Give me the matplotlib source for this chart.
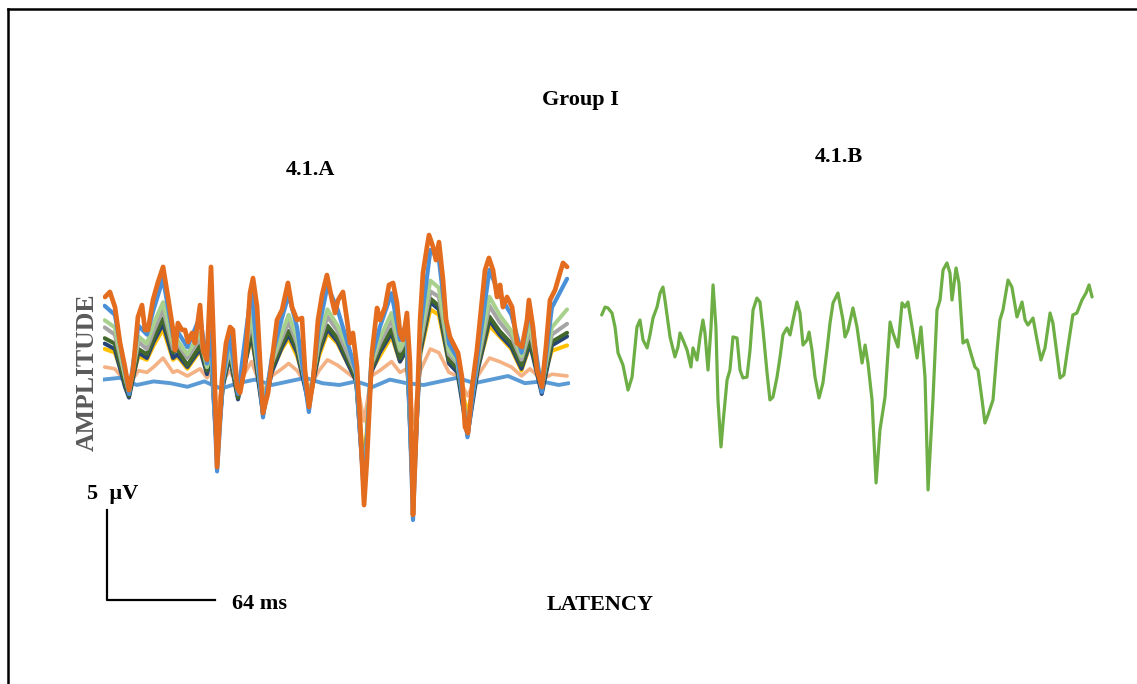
import numpy as np
import matplotlib
matplotlib.use("Agg")
import matplotlib.pyplot as plt
from matplotlib.lines import Line2D

# ---- panel 4.1.A : largest trace (orange) ----
lat_a = [1.2, 4.1, 7.1, 10.1, 13.0, 15.4, 17.8, 20.7, 23.1, 24.9, 26.7, 29.6, 32.6, 35.6,
         38.5, 41.5, 42.7, 44.4, 46.8, 48.6, 50.4, 52.7, 54.5, 57.5, 59.3, 61.6, 64.0, 65.8,
         67.6, 70.5, 72.9, 75.3, 77.0, 79.4, 81.2, 84.1, 87.1, 88.9, 91.3, 93.0, 94.8, 97.8,
         100.7, 103.1, 106.1, 109.6, 112.0, 115.0, 117.9, 119.7, 122.1, 124.4, 127.4, 129.8,
         132.7, 135.7, 137.5, 139.3, 142.2, 144.6, 146.4, 148.1, 150.5, 152.3, 154.7, 156.4,
         159.4, 162.4, 164.1, 167.1, 169.5, 171.9, 174.2, 176.0, 177.8, 180.1, 181.9, 183.7,
         185.5, 187.9, 189.6, 192.0, 193.2, 195.6, 197.3, 199.1, 201.5, 203.3, 205.6, 208.6,
         210.4, 212.7, 214.5, 216.3, 218.7, 221.6, 224.6, 226.4, 228.7, 231.1, 233.5, 235.3,
         237.0, 239.4, 242.4, 245.3, 248.3, 251.3, 252.4, 254.8, 257.2, 260.1, 262.5, 264.9,
         267.9, 270.8, 272.6, 275.0]
amp_orange = [4.89, 5.17, 4.33, 2.33, 1.00, -0.28, 0.83, 3.78, 4.44, 3.06, 3.06, 4.72, 5.72, 6.56,
              4.89, 3.06, 1.94, 3.44, 3.06, 3.06, 2.39, 2.89, 2.33, 4.44, 1.94, 1.39, 6.56, 1.78,
              -4.56, 0.28, 2.33, 3.22, 3.06, -0.11, -0.44, 1.00, 5.11, 5.94, 4.33, 1.39, -1.56, -0.44,
              1.78, 3.61, 4.17, 5.67, 4.33, 3.61, 3.72, 0.83, -1.22, 0.11, 3.61, 5.00,
              6.11, 4.72, 4.00, 4.72, 5.17, 3.61, 2.33, 2.89, 1.00, -1.94, -6.67, -4.17,
              1.78, 4.28, 3.61, 4.33, 5.56, 5.67, 4.56, 2.89, 2.50, 4.00, 1.22, -7.22,
              -2.89, 3.61, 6.22, 7.67, 8.33, 7.67, 6.94, 7.94, 5.83, 3.61, 2.67, 2.11,
              1.78, 0.44, -2.33, -2.67, -0.11, 1.94, 4.72, 6.39, 7.06, 6.39, 4.89, 5.56,
              4.33, 4.89, 4.33, 2.33, 2.11, 3.61, 4.72, 3.22, 0.83, -0.11, 2.11, 4.72,
              5.28, 6.22, 6.78, 6.56]

# ---- panel 4.1.A : the other subjects (coarser reading) ----
lat_mid = [1, 7, 13, 15.4, 21, 26, 30, 35.6, 41.5, 44, 50, 57.5, 61.6, 64, 67.6, 71, 75, 80,
           88, 94.8, 100, 106, 110, 115, 122, 128, 133, 139, 146, 150, 154.7, 159, 164, 171,
           176, 180, 183.7, 188, 194, 199, 205, 210, 216, 222, 229, 235, 242, 248, 253, 260,
           266, 275]
amp_blue = [4.4, 3.9, 0.8, -0.5, 3.3, 2.8, 4.2, 5.9, 2.7, 3.0, 2.1, 3.8, 1.2, 3.0, -4.8, 0.2,
            2.8, -0.5, 5.3, -1.8, 1.5, 3.7, 5.0, 3.2, -1.5, 3.2, 5.5, 4.2, 2.0, 0.7, -6.2, 1.4,
            3.2, 5.1, 2.5, 3.5, -7.5, 3.0, 7.5, 7.0, 2.3, 1.5, -2.9, 1.6, 6.4, 5.0, 3.9, 1.8,
            4.2, -0.4, 4.3, 5.9]
amp_ltgreen = [3.6, 3.2, 0.5, -0.4, 2.7, 2.3, 3.4, 4.6, 2.3, 2.5, 1.7, 2.9, 1.0, 2.3, -4.0, 0.2,
               2.3, -0.4, 4.0, -1.3, 1.3, 2.9, 3.9, 2.6, -1.0, 2.6, 4.2, 3.3, 1.9, 0.6, -5.8, 1.2,
               2.6, 4.0, 2.0, 2.8, -6.6, 2.6, 5.8, 5.4, 1.9, 1.3, -2.4, 1.4, 4.9, 3.9, 3.0, 1.6,
               3.4, -0.2, 3.2, 4.2]
amp_gray = [3.2, 2.8, 0.5, -0.4, 2.4, 2.0, 3.0, 4.2, 2.0, 2.3, 1.5, 2.6, 1.0, 2.0, -3.8, 0.3,
            2.0, -0.3, 3.6, -1.2, 1.2, 2.6, 3.5, 2.3, -0.8, 2.3, 3.8, 3.0, 1.5, 0.6, -5.5, 1.1,
            2.3, 3.6, 1.9, 2.6, -6.0, 2.3, 5.2, 4.9, 1.7, 1.2, -2.2, 1.2, 4.4, 3.5, 2.7, 1.4,
            3.0, 0.0, 2.8, 3.4]
amp_dkgreen = [2.6, 2.3, 0.1, -0.6, 2.0, 1.7, 2.6, 3.7, 1.8, 2.0, 1.1, 2.2, 0.8, 1.8, -3.5, 0.0,
               1.8, -0.7, 3.1, -1.4, 0.9, 2.3, 3.0, 2.0, -0.9, 2.0, 3.3, 2.6, 1.2, 0.3, -5.2, 0.9,
               2.0, 3.1, 1.5, 2.2, -5.8, 2.0, 4.8, 4.4, 1.4, 0.9, -2.5, 1.0, 3.8, 3.0, 2.3, 1.1,
               2.5, -0.3, 2.4, 2.9]
amp_navy = [2.3, 2.0, -0.1, -0.7, 1.8, 1.5, 2.4, 3.4, 1.5, 1.7, 1.0, 2.0, 0.6, 1.6, -3.9, -0.1,
            1.6, -0.8, 2.9, -1.6, 0.7, 2.1, 2.8, 1.8, -1.1, 1.8, 3.1, 2.4, 1.0, 0.2, -5.8, 0.7,
            1.8, 2.9, 1.3, 2.0, -6.4, 1.8, 4.6, 4.2, 1.2, 0.7, -2.8, 0.8, 3.6, 2.8, 2.1, 0.9,
            2.3, -0.5, 2.2, 2.7]
amp_yellow = [2.0, 1.8, 0.2, -0.3, 1.6, 1.4, 2.2, 3.1, 1.4, 1.6, 0.9, 1.9, 0.8, 1.4, -3.0, 0.2,
              1.5, -0.2, 2.6, -0.9, 0.8, 2.0, 2.6, 1.6, -0.5, 1.6, 2.9, 2.3, 1.0, 0.4, -4.5, 0.8,
              1.6, 2.7, 1.3, 1.9, -5.0, 1.7, 4.2, 3.9, 1.2, 0.8, -1.6, 0.9, 3.3, 2.7, 2.0, 0.8,
              2.2, 0.1, 1.9, 2.2]
amp_ltorange = [1.0, 0.9, 0.2, 0.0, 0.8, 0.7, 1.0, 1.5, 0.7, 0.8, 0.5, 0.9, 0.4, 0.7, -1.5, 0.2,
                0.8, 0.0, 1.3, -0.4, 0.5, 0.9, 1.2, 0.8, -0.2, 0.8, 1.4, 1.1, 0.6, 0.3, -2.0, 0.5,
                0.8, 1.3, 0.7, 0.9, -2.2, 0.8, 2.0, 1.8, 0.7, 0.5, -0.6, 0.5, 1.5, 1.3, 1.0, 0.5,
                0.9, 0.3, 0.6, 0.5]

lat_flat = [0, 10, 20, 30, 40, 50, 60, 70, 80, 90, 100, 110, 120, 130, 140, 150, 160, 170,
            180, 190, 200, 210, 220, 230, 240, 250, 260, 270, 276]
amp_flat = [0.3, 0.4, 0.0, 0.2, 0.1, -0.1, 0.2, -0.2, 0.1, 0.3, 0.0, 0.2, 0.4, 0.1, 0.0, 0.2,
            -0.1, 0.3, 0.1, 0.0, 0.2, 0.4, 0.1, 0.3, 0.5, 0.1, 0.2, 0.0, 0.1]

# ---- panel 4.1.B : grand average (green) ----
lat_b = [1.0, 3.0, 4.7, 7.1, 8.9, 10.7, 13.6, 16.6, 19.0, 21.9, 23.7, 25.5, 27.9, 29.6, 31.4,
         33.8, 35.6, 37.3, 38.5, 41.5, 44.4, 46.2, 47.4, 49.2, 51.6, 53.9, 55.1, 57.5, 59.3,
         61.0, 62.2, 64.0, 65.8, 67.0, 68.7, 69.9, 71.7, 72.9, 75.3, 77.0, 78.8, 81.2, 83.0,
         84.7, 87.1, 88.9, 90.7, 93.0, 94.8, 96.6, 99.0, 100.7, 102.5, 104.9, 106.7, 108.4,
         110.8, 112.6, 114.4, 116.7, 118.5, 120.3, 122.7, 123.9, 125.6, 127.4, 129.8, 132.1,
         134.5, 136.3, 138.1, 141.0, 144.0, 145.2, 147.0, 149.9, 152.3, 155.3, 157.1, 158.8,
         161.2, 163.6, 165.9, 168.9, 171.9, 173.6, 176.6, 179.0, 180.7, 182.5, 184.9, 187.9,
         190.2, 192.6, 194.4, 197.3, 199.7, 201.5, 203.3, 205.6, 207.4, 208.6, 211.0, 212.7,
         215.1, 217.5, 220.4, 222.2, 224.0, 226.4, 228.1, 229.9, 232.9, 235.3, 237.0, 238.8,
         241.8, 244.1, 247.1, 250.1, 251.9, 253.6, 256.6, 259.0, 261.3, 263.7, 266.7, 268.4,
         272.6, 274.9, 277.3, 280.2, 282.6, 285.6, 288.0, 289.8, 291.6]
amp_green = [3.89, 4.33, 4.28, 4.00, 3.22, 1.78, 1.11, -0.28, 0.44, 3.22, 3.61, 2.50, 2.06, 2.78, 3.72,
             4.33, 5.11, 5.44, 4.72, 2.67, 1.56, 2.11, 2.89, 2.50, 1.94, 1.00, 2.06, 1.39, 2.67,
             3.61, 2.89, 0.83, 3.22, 5.56, 3.22, -0.83, -3.44, -2.11, 0.28, 0.83, 2.67, 2.61, 0.83,
             0.39, 0.44, 1.94, 4.17, 4.83, 4.61, 3.06, 0.67, -0.83, -0.67, 0.44, 1.56, 2.78,
             3.17, 2.78, 3.61, 4.61, 4.00, 2.22, 2.50, 2.94, 1.94, 0.44, -0.72, 0.11,
             1.94, 3.44, 4.56, 5.11, 3.61, 2.67, 3.06, 4.28, 3.22, 1.22, 2.22, 1.22,
             -0.83, -5.44, -2.50, -0.67, 3.50, 2.89, 2.11, 4.56, 4.33, 4.61, 3.22, 1.50,
             3.22, 0.44, -5.83, -0.83, 4.17, 4.72, 6.39, 6.78, 6.22, 4.72, 6.50, 5.67,
             2.33, 2.50, 1.56, 1.00, 0.83, -0.83, -2.11, -1.67, -0.83, 1.94, 3.61, 4.17,
             5.83, 5.44, 3.78, 4.61, 3.61, 3.33, 3.72, 2.50, 1.39, 2.06, 4.00, 3.44,
             0.39, 0.56, 2.11, 3.89, 4.00, 4.72, 5.11, 5.56, 4.89]

W, H = 1137, 684
fig = plt.figure(figsize=(W / 100, H / 100), dpi=100)
plt.rcParams['font.family'] = ['Liberation Serif', 'DejaVu Serif']


def box(left, top, right, bottom):
    # pixel box -> figure fraction
    return [left / W, 1 - bottom / H, (right - left) / W, (bottom - top) / H]


def pt(x, y):
    return x / W, 1 - y / H


px_ms = 1.6875   # 64 ms scale bar = 108 px
px_uv = 18.0     # 5 uV scale bar = 90 px
ylo, yhi = -13, 9

ax_a = fig.add_axes(box(103, 385 - yhi * px_uv, 103 + 277 * px_ms, 385 - ylo * px_uv))
ax_b = fig.add_axes(box(600, 385 - yhi * px_uv, 600 + 293 * px_ms, 385 - ylo * px_uv))
ax_a.set_xlim(0, 277)
ax_b.set_xlim(0, 293)
for ax in (ax_a, ax_b):
    ax.set_ylim(ylo, yhi)
    ax.axis('off')

kw = dict(solid_joinstyle='round', solid_capstyle='round')
ax_a.plot(lat_mid, amp_ltorange, color='#F4B183', lw=2.6, **kw)
ax_a.plot(lat_flat, amp_flat, color='#5B9BD5', lw=2.8, **kw)
ax_a.plot(lat_mid, amp_yellow, color='#FFC000', lw=2.9, **kw)
ax_a.plot(lat_mid, amp_navy, color='#264478', lw=2.9, **kw)
ax_a.plot(lat_mid, amp_dkgreen, color='#43682B', lw=2.9, **kw)
ax_a.plot(lat_mid, amp_gray, color='#A5A5A5', lw=2.9, **kw)
ax_a.plot(lat_mid, amp_ltgreen, color='#A9D18E', lw=2.9, **kw)
ax_a.plot(lat_mid, amp_blue, color='#4A90D9', lw=3.0, **kw)
ax_a.plot(lat_a, amp_orange, color='#E36C1E', lw=3.4, **kw)

ax_b.plot(lat_b, amp_green, color='#6DAE45', lw=2.3, **kw)

# scale bar: 5 uV x 64 ms
x0 = 2.4
y0 = (385 - 600) / px_uv
ax_a.plot([x0, x0, x0 + 64], [y0 + 5, y0, y0], color='black', lw=1.6, clip_on=False)

tkw = dict(fontsize=16, fontweight='bold', color='black')
fig.text(*pt(580, 100), 'Group I', ha='center', va='center', **tkw)
fig.text(*pt(310, 170), '4.1.A', ha='center', va='center', **tkw)
fig.text(*pt(839, 157), '4.1.B', ha='center', va='center', **tkw)
fig.text(*pt(600, 605), 'LATENCY', ha='center', va='center', **tkw)
fig.text(*pt(87, 494), '5  µV', ha='left', va='center', **tkw)
fig.text(*pt(232, 604), '64 ms', ha='left', va='center', **tkw)
fig.text(*pt(87, 372), 'AMPLITUDE', ha='center', va='center', rotation=90,
         fontsize=18.5, fontweight='bold', color='#5a5a5a')

# frame lines (left and top only visible)
fig.add_artist(Line2D([8 / W, 8 / W], [0, 1 - 9 / H], color='black', lw=1.8))
fig.add_artist(Line2D([8 / W, 1], [1 - 9 / H, 1 - 9 / H], color='black', lw=1.8))

fig.savefig('out.png', dpi=100)
